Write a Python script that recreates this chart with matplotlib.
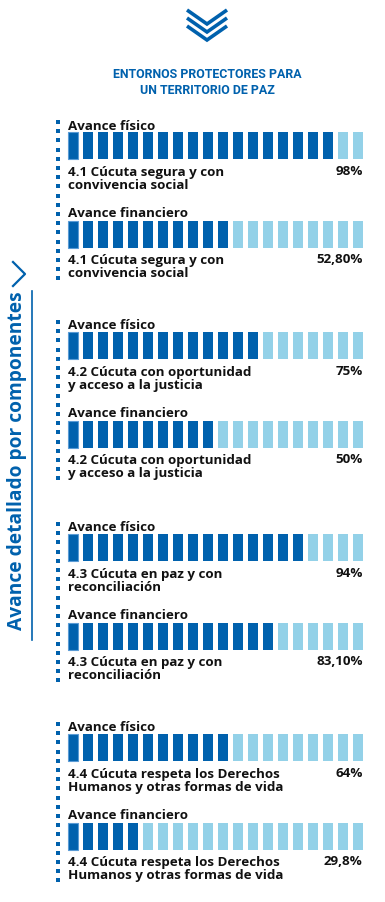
import matplotlib.pyplot as plt

# Datos del gráfico
componentes = [
    "4.1 Cúcuta segura y con\nconvivencia social",
    "4.2 Cúcuta con oportunidad\ny acceso a la justicia",
    "4.3 Cúcuta en paz y con\nreconciliación",
    "4.4 Cúcuta respeta los Derechos\nHumanos y otras formas de vida",
]
fisico_txt = ["98%", "75%", "94%", "64%"]
financiero_txt = ["52,80%", "50%", "83,10%", "29,8%"]
# segmentos llenos (de 20) tal como se ven en la imagen
fisico_seg = [18, 13, 16, 11]
financiero_seg = [11, 10, 14, 5]
n_seg = 20

azul = "#0061ad"
celeste = "#93d1e8"
font = "Open Sans"
fs_txt = 9.6

fig = plt.figure(figsize=(3.85, 9.03), dpi=100)
ax = fig.add_axes([0, 0, 1, 1])
ax.set_xlim(0, 385)
ax.set_ylim(903, 0)
ax.axis("off")

# icono superior (tres chevrones)
for k in range(3):
    y0 = 11 + k * 8
    ax.plot([187, 207, 227], [y0, y0 + 14, y0], color=azul, lw=2.6,
            solid_joinstyle="miter", solid_capstyle="butt")

titulo_font = ["DejaVu Sans Condensed", "Liberation Sans Narrow", "Roboto"]
ax.text(207.5, 75, "ENTORNOS PROTECTORES PARA", ha="center", va="center",
        color=azul, fontsize=8.9, fontweight="bold", fontstretch="condensed",
        family=titulo_font)
ax.text(207.5, 90.5, "UN TERRITORIO DE PAZ", ha="center", va="center",
        color=azul, fontsize=8.9, fontweight="bold", fontstretch="condensed",
        family=titulo_font)

# texto lateral
ax.text(17, 461, "Avance detallado por componentes", rotation=90,
        ha="center", va="center", color=azul, fontsize=13.8,
        fontweight="bold", family=font)
ax.plot([13, 25, 13], [263, 275, 287], color=azul, lw=1.6)
ax.plot([31.5, 31.5], [292, 641], color=azul, lw=1.2)

x0 = 68.3
paso = 15.0
ancho = 9.3
xs = [x0 + paso * i for i in range(n_seg)]
tops = [126, 326, 528, 728]


def barra(y, llenos):
    colores = [azul if i < llenos else celeste for i in range(n_seg)]
    bars = ax.bar(xs, 27, width=ancho, bottom=y, align="edge", color=colores,
                  linewidth=0)
    bars[0].set_edgecolor("#5a9bd5")
    bars[0].set_linewidth(0.8)


for t, comp, ft, fs, nt, ns in zip(tops, componentes, fisico_txt, fisico_seg,
                                   financiero_txt, financiero_seg):
    # línea punteada
    dots = [t - 3 + 9.2 * j for j in range(18)]
    ax.scatter([57.5] * len(dots), dots, marker="s", s=9, color=azul,
               linewidths=0)
    ax.text(x0, t, "Avance físico", va="center", fontsize=fs_txt,
            fontweight="bold", family=font, color="#111111")
    barra(t + 7, fs)
    ax.text(x0, t + 53, comp, va="center", fontsize=fs_txt, fontweight="bold",
            family=font, color="#111111", linespacing=1.05)
    ax.text(362.6, t + 45.5, ft, va="center", ha="right", fontsize=fs_txt,
            fontweight="bold", family=font, color="#111111")
    ax.text(x0, t + 88, "Avance financiero", va="center", fontsize=fs_txt,
            fontweight="bold", family=font, color="#111111")
    barra(t + 96, ns)
    ax.text(x0, t + 141, comp, va="center", fontsize=fs_txt, fontweight="bold",
            family=font, color="#111111", linespacing=1.05)
    ax.text(362.6, t + 133.5, nt, va="center", ha="right", fontsize=fs_txt,
            fontweight="bold", family=font, color="#111111")

fig.savefig("out.png", dpi=100)
